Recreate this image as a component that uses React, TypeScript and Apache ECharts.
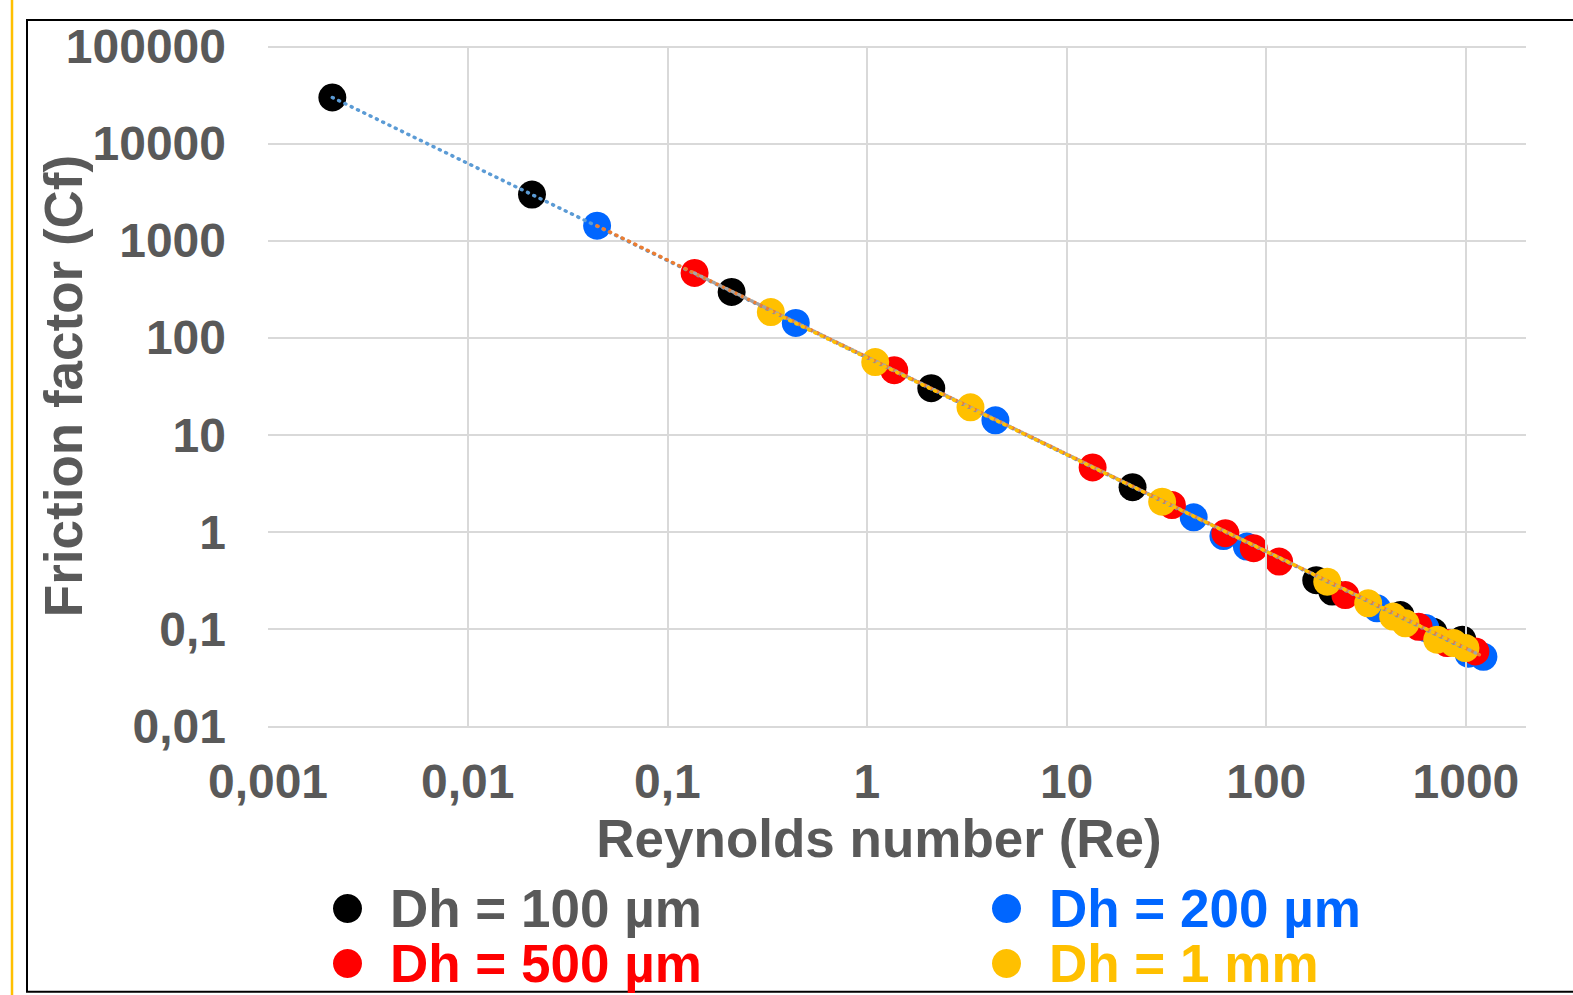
import React, { useEffect, useRef } from "react";
import * as echarts from "echarts";

// Dh = 100 µm
const dh100Re = [0.0021, 0.021, 0.21, 2.1, 21.4, 178, 214, 470, 687, 960];
const dh100Cf = [30000, 3000, 298, 30.4, 2.9, 0.32, 0.244, 0.14, 0.094, 0.078];
// Dh = 200 µm
const dh200Re = [0.0445, 0.44, 4.4, 43.3, 61, 80, 359, 627, 1030, 1224];
const dh200Cf = [1434, 143, 14.2, 1.42, 0.91, 0.71, 0.164, 0.103, 0.056, 0.052];
// Dh = 500 µm
const dh500Re = [0.137, 1.37, 13.5, 33.7, 62.4, 86.5, 116, 249, 580, 805, 1116];
const dh500Cf = [468, 46.6, 4.64, 1.9, 0.975, 0.683, 0.497, 0.225, 0.106, 0.072, 0.059];
// Dh = 1 mm
const dh1mmRe = [0.33, 1.1, 3.3, 30.1, 202, 324, 432, 498, 718, 869, 995];
const dh1mmCf = [185, 56.4, 19.3, 2.06, 0.309, 0.185, 0.135, 0.115, 0.078, 0.072, 0.064];

// power trendlines (end points)
const trend100 = [[0.0021, 30000], [960, 0.065]];
const trend200 = [[0.0445, 1430], [1224, 0.052]];
const trend500 = [[0.137, 465], [1116, 0.057]];
const trend1mm = [[0.33, 188], [995, 0.064]];

const seriesNames = ["Dh = 100 µm", "Dh = 200 µm", "Dh = 500 µm", "Dh = 1 mm"];
const xTickValues = [0.001, 0.01, 0.1, 1, 10, 100, 1000];
const xTickLabels = ["0,001", "0,01", "0,1", "1", "10", "100", "1000"];
const yTickLabels = ["0,01", "0,1", "1", "10", "100", "1000", "10000", "100000"];

const FONT = "'Liberation Sans', Arial, sans-serif";
const GRAY = "#595959";
const C_BLACK = "#000000";
const C_BLUE = "#0066FF";
const C_RED = "#FF0000";
const C_YELLOW = "#FFC000";

const zip = (a: number[], b: number[]) => a.map((v, i) => [v, b[i]]);

function decadeLabel(value: number, labels: string[], offset: number) {
  const l = Math.log10(value);
  const r = Math.round(l);
  if (Math.abs(l - r) > 1e-6) return "";
  return labels[r + offset] ?? "";
}

export default function App() {
  const ref = useRef<HTMLDivElement>(null);
  useEffect(() => {
    if (!ref.current) return;
    const chart = echarts.init(ref.current, undefined, { renderer: "svg" });
    const scatter = (name: string, data: number[][], color: string, z: number) => ({
      type: "scatter",
      name,
      data,
      symbol: "circle",
      symbolSize: 28,
      itemStyle: { color, opacity: 1 },
      z,
      silent: true,
    });
    const trend = (name: string, data: number[][], color: string, z: number) => ({
      type: "line",
      name,
      data,
      showSymbol: false,
      symbol: "none",
      lineStyle: { color, width: 3.5, type: [1, 6], cap: "round" },
      z,
      silent: true,
    });
    const legendText = (c: string) => ({ color: c });
    const legendCommon = {
      orient: "vertical",
      top: 881,
      padding: 0,
      itemGap: 0,
      itemWidth: 29,
      itemHeight: 29,
      icon: "circle",
      selectedMode: false,
      textStyle: {
        fontSize: 53,
        fontWeight: "bold",
        fontFamily: FONT,
        lineHeight: 55,
        padding: [0, 0, 0, 23],
      },
    };
    chart.setOption({
      animation: false,
      backgroundColor: "#ffffff",
      grid: { left: 268, top: 46.7, width: 1258, height: 679.6, containLabel: false },
      xAxis: {
        type: "log",
        logBase: 10,
        min: 0.001,
        max: 2000,
        axisLine: { show: false },
        axisTick: { show: false },
        splitLine: { show: false },
        axisLabel: {
          margin: 31,
          fontSize: 48,
          fontWeight: "bold",
          fontFamily: FONT,
          color: GRAY,
          formatter: (v: number) => decadeLabel(v, xTickLabels, 3),
        },
      },
      yAxis: {
        type: "log",
        logBase: 10,
        min: 0.01,
        max: 100000,
        axisLine: { show: false },
        axisTick: { show: false },
        splitLine: { show: true, lineStyle: { color: "#D9D9D9", width: 2 } },
        axisLabel: {
          margin: 42,
          fontSize: 48,
          fontWeight: "bold",
          fontFamily: FONT,
          color: GRAY,
          formatter: (v: number) => decadeLabel(v, yTickLabels, 2),
        },
      },
      legend: [
        {
          ...legendCommon,
          left: 333,
          data: [
            { name: seriesNames[0], textStyle: legendText(GRAY) },
            { name: seriesNames[2], textStyle: legendText(C_RED) },
          ],
        },
        {
          ...legendCommon,
          left: 992,
          data: [
            { name: seriesNames[1], textStyle: legendText(C_BLUE) },
            { name: seriesNames[3], textStyle: legendText(C_YELLOW) },
          ],
        },
      ],
      graphic: [
        {
          type: "line",
          shape: { x1: 12, y1: 0, x2: 12, y2: 995 },
          style: { stroke: C_YELLOW, lineWidth: 2.5 },
          silent: true,
        },
        {
          type: "rect",
          shape: { x: 27, y: 20, width: 1600, height: 971.7 },
          style: { fill: "none", stroke: "#000000", lineWidth: 2 },
          silent: true,
        },
        {
          type: "text",
          x: 879,
          y: 838,
          style: {
            text: "Reynolds number (Re)",
            font: `bold 53px ${FONT}`,
            fill: GRAY,
            align: "center",
            verticalAlign: "middle",
          },
          silent: true,
        },
        {
          type: "text",
          x: 63,
          y: 386,
          rotation: Math.PI / 2,
          style: {
            text: "Friction factor (Cf)",
            font: `bold 53px ${FONT}`,
            fill: GRAY,
            align: "center",
            verticalAlign: "middle",
          },
          silent: true,
        },
      ],
      series: [
        {
          type: "line",
          name: "grid-x",
          data: [],
          z: 1,
          silent: true,
          markLine: {
            silent: true,
            symbol: ["none", "none"],
            label: { show: false },
            lineStyle: { color: "#D9D9D9", width: 2, type: "solid" },
            data: xTickValues.map((v) => ({ xAxis: v })),
          },
        },
        scatter(seriesNames[0], zip(dh100Re, dh100Cf), C_BLACK, 2),
        scatter(seriesNames[1], zip(dh200Re, dh200Cf), C_BLUE, 3),
        scatter(seriesNames[2], zip(dh500Re, dh500Cf), C_RED, 4),
        scatter(seriesNames[3], zip(dh1mmRe, dh1mmCf), C_YELLOW, 5),
        trend("trend100", trend100, "#5B9BD5", 6),
        trend("trend200", trend200, "#ED7D31", 7),
        trend("trend500", trend500, "#A5A5A5", 8),
        trend("trend1mm", trend1mm, "#FFC000", 9),
      ],
    });
    return () => chart.dispose();
  }, []);
  return (
    <div
      ref={ref}
      style={{ position: "fixed", left: 0, top: 0, width: 1573, height: 995, background: "#fff" }}
    />
  );
}
